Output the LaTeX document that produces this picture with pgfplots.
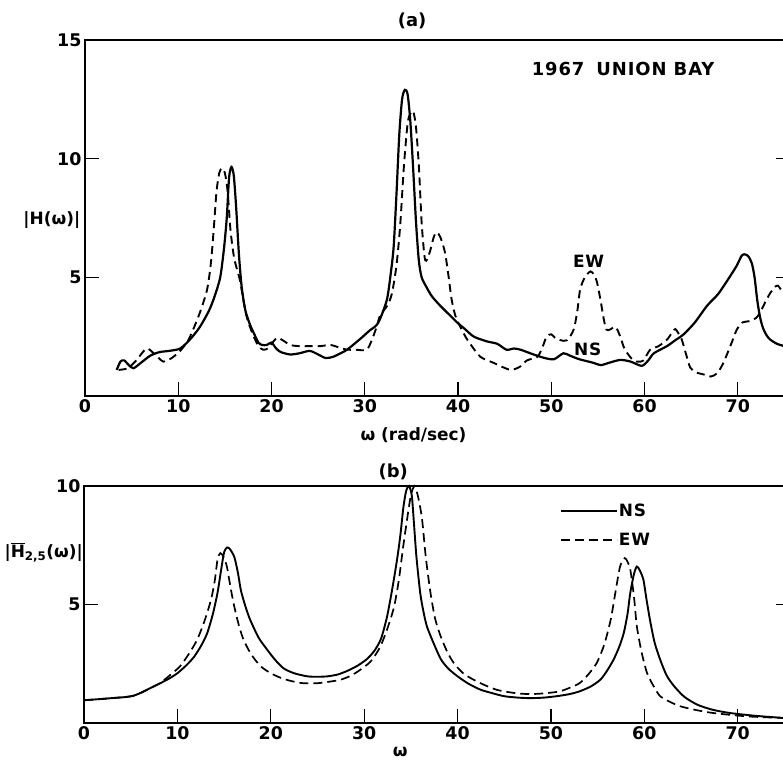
\documentclass[border=0pt]{standalone}
\usepackage{fontspec}
\setmainfont{DejaVu Sans}
\newfontfamily\lettering[LetterSpace=5]{DejaVu Sans}
\usepackage{pgfplots}
\pgfplotsset{compat=1.18}

\pgfplotstableread{
x y
3.4 1.1
3.8 1.45
4.2 1.5
4.7 1.3
5.2 1.17
6.0 1.4
7.0 1.7
8.0 1.85
9.0 1.9
10.2 2.0
11.3 2.4
12.3 2.9
13.3 3.6
13.9 4.2
14.5 5.0
14.9 6.2
15.2 7.5
15.45 9.2
15.7 9.65
15.95 9.3
16.2 8.0
16.5 6.0
16.8 4.6
17.2 3.6
17.7 3.0
18.1 2.65
18.6 2.25
19.0 2.15
19.5 2.15
20.0 2.25
20.5 2.0
21.0 1.85
22.0 1.75
23.0 1.8
24.1 1.9
25.0 1.75
25.8 1.6
26.6 1.65
27.4 1.8
28.1 1.95
29.5 2.4
30.5 2.75
31.3 3.0
31.8 3.4
32.4 4.1
32.8 5.2
33.1 6.3
33.4 8.5
33.7 11.0
34.0 12.5
34.3 12.9
34.6 12.7
34.9 11.5
35.2 9.5
35.5 7.3
35.8 5.7
36.1 5.0
36.6 4.6
37.2 4.2
38.1 3.8
39.0 3.45
39.9 3.1
40.8 2.8
41.7 2.5
43.1 2.3
44.2 2.2
45.2 1.95
46.0 2.0
46.7 1.95
48.1 1.75
49.3 1.6
50.3 1.55
51.3 1.8
52.0 1.7
53.0 1.55
54.5 1.4
55.3 1.3
56.2 1.4
57.4 1.52
58.5 1.45
59.7 1.27
60.4 1.5
61.0 1.8
62.4 2.1
63.3 2.35
64.2 2.6
65.4 3.1
66.7 3.8
67.9 4.3
69.2 5.06
69.9 5.5
70.4 5.9
70.7 5.97
71.1 5.9
71.5 5.6
71.8 5.0
72.1 4.0
72.4 3.3
72.7 2.87
73.1 2.55
73.5 2.37
74.2 2.2
75.0 2.1
}\topNS

\pgfplotstableread{
x y
3.6 1.1
4.6 1.17
5.5 1.5
6.6 2.0
7.5 1.75
8.4 1.45
9.3 1.6
10.2 1.9
11.0 2.3
11.6 2.8
12.4 3.6
13.1 4.5
13.5 5.6
13.8 7.0
14.1 8.6
14.4 9.4
14.7 9.6
15.0 9.4
15.3 8.6
15.6 7.0
16.0 5.8
16.6 4.9
17.0 4.0
17.3 3.4
17.7 2.9
18.1 2.5
18.6 2.1
19.1 1.95
19.6 2.0
20.0 2.2
20.6 2.45
21.2 2.35
22.0 2.15
23.0 2.1
24.1 2.1
25.2 2.1
26.3 2.15
27.2 2.05
28.1 1.95
29.0 1.95
30.2 1.95
30.8 2.4
31.3 2.95
31.65 3.4
32.4 3.8
32.9 4.3
33.4 5.5
33.8 7.2
34.2 9.7
34.6 11.5
34.9 11.9
35.2 12.0
35.5 11.3
35.8 9.7
36.1 7.3
36.4 5.9
36.6 5.7
37.0 6.1
37.4 6.7
37.7 6.9
38.1 6.7
38.6 6.05
39.0 5.0
39.3 4.1
39.7 3.4
40.2 2.95
40.8 2.5
41.3 2.2
42.4 1.65
43.8 1.4
44.6 1.25
45.6 1.1
46.2 1.15
46.7 1.25
47.4 1.5
48.5 1.65
49.0 2.0
49.5 2.5
50.0 2.6
50.4 2.45
51.0 2.35
51.7 2.35
52.4 2.8
52.8 3.6
53.1 4.5
53.6 5.0
54.2 5.25
54.6 5.1
54.9 4.8
55.3 4.0
55.6 3.3
55.9 2.8
56.3 2.8
56.9 2.91
57.4 2.5
57.9 1.95
58.8 1.5
59.4 1.45
59.9 1.5
60.6 1.95
61.5 2.1
62.4 2.37
63.0 2.7
63.3 2.82
63.7 2.6
64.0 2.37
64.5 1.7
64.9 1.2
65.5 1.0
66.4 0.9
67.1 0.82
67.8 0.96
68.4 1.35
68.9 1.81
69.4 2.3
69.9 2.8
70.5 3.1
71.2 3.15
72.0 3.3
72.5 3.6
73.0 4.0
73.5 4.35
74.0 4.6
74.3 4.65
74.6 4.5
75.0 4.3
}\topEW

\pgfplotstableread{
x y
0 0.96
3 1.05
5.3 1.15
7.5 1.55
9 1.85
10 2.1
11 2.45
11.8 2.8
12.6 3.3
13.2 3.8
13.8 4.6
14.3 5.5
14.7 6.5
15.0 7.2
15.3 7.4
15.6 7.35
16.1 7.0
16.5 6.3
16.8 5.6
17.3 4.9
17.8 4.35
18.7 3.6
19.6 3.1
20.5 2.65
21.4 2.3
22.5 2.1
23.9 1.97
25.0 1.95
26.1 1.97
27.2 2.05
28.2 2.2
29.3 2.42
30.3 2.7
31.1 3.05
31.8 3.55
32.4 4.4
32.8 5.2
33.2 6.1
33.6 7.1
33.9 8.0
34.2 9.1
34.5 9.8
34.8 10.0
35.1 9.6
35.3 8.6
35.6 7.0
36.0 5.5
36.3 4.8
36.7 4.1
37.4 3.4
38.2 2.7
39.0 2.3
40.0 1.97
41.2 1.65
42.5 1.4
43.8 1.25
45.0 1.13
46.5 1.07
47.8 1.05
49.2 1.07
50.6 1.13
52.0 1.22
53.1 1.34
54.3 1.55
55.3 1.83
56.0 2.2
56.7 2.67
57.3 3.2
57.8 3.8
58.2 4.6
58.5 5.5
58.9 6.3
59.2 6.6
59.5 6.45
59.9 6.05
60.2 5.3
60.6 4.36
61.1 3.4
61.7 2.67
62.4 2.0
63.2 1.55
64.3 1.1
65.7 0.77
67.3 0.56
69.2 0.42
72.0 0.3
75.0 0.21
}\botNS

\pgfplotstableread{
x y
0 0.96
3 1.05
5.3 1.15
7 1.45
8.2 1.7
9.3 2.05
10.3 2.4
11.2 2.9
12.1 3.5
12.9 4.3
13.6 5.2
14.0 6.0
14.3 6.9
14.6 7.17
14.95 7.0
15.3 6.6
15.7 5.7
16.1 4.9
16.6 4.1
17.1 3.5
17.9 2.9
18.9 2.4
20.0 2.1
21.1 1.9
22.1 1.78
23.2 1.69
24.3 1.67
25.3 1.69
26.4 1.75
27.5 1.83
28.6 2.0
29.6 2.25
30.7 2.6
31.7 3.2
32.5 4.0
33.2 4.9
33.7 6.0
34.2 7.5
34.6 8.6
35.0 9.6
35.4 10.0
35.8 9.5
36.2 8.6
36.6 7.0
37.1 5.5
37.6 4.4
38.2 3.65
38.9 3.0
39.6 2.53
40.6 2.1
41.7 1.83
42.9 1.6
44.2 1.4
45.5 1.3
46.7 1.24
47.8 1.22
48.9 1.24
50.0 1.28
51.0 1.34
52.1 1.5
53.1 1.69
54.0 2.05
54.9 2.53
55.7 3.3
56.4 4.36
56.9 5.5
57.4 6.6
57.9 6.96
58.2 6.8
58.5 6.47
58.9 5.3
59.2 4.08
59.7 3.0
60.3 2.1
61.0 1.55
61.7 1.13
62.8 0.88
63.9 0.7
65.5 0.55
67.4 0.42
71.0 0.28
75.0 0.21
}\botEW

\pgfplotsset{
  common/.style={
    scale only axis,
    anchor=south west,
    xmin=0, xmax=75.6, ymin=0,
    xtick={0,10,...,70},
    xtick pos=left,
    ytick pos=both,
    tick align=inside,
    major tick length=14bp,
    tick style={line width=1.2bp, black},
    axis line style={line width=2bp},
    /pgf/number format/assume math mode=true,
    tick label style={font=\fontsize{17.5}{17.5}\selectfont\bfseries},
    label style={font=\fontsize{17}{17}\selectfont\bfseries},
    title style={font=\fontsize{18}{18}\selectfont\bfseries},
    clip=false,
  },
  ns/.style={black, line width=2.2bp, smooth, tension=0.45},
  ew/.style={black, line width=1.9bp, dash pattern=on 8bp off 5bp, smooth, tension=0.45},
}

\begin{document}
\begin{tikzpicture}
\useasboundingbox (0,0) rectangle (783bp,760bp);

% ---------- (a)
\begin{axis}[common,
  at={(85bp,364bp)}, width=705bp, height=356bp,
  ymax=15, ytick={5,10,15},
  title={(a)}, title style={at={(axis description cs:0.464,1.037)}, anchor=center},
  xlabel={ω (rad/sec)}, xlabel style={at={(axis description cs:0.466,-0.110)}, anchor=center},
  ylabel={|H(ω)|}, ylabel style={rotate=-90, at={(axis description cs:-0.047,0.494)}, anchor=center},
]
\addplot[ns] table {\topNS};
\addplot[ew] table {\topEW};
\node[font=\fontsize{18}{18}\selectfont\bfseries\lettering] at (axis cs:57.7,13.8) {1967\hspace{12bp}UNION BAY};
\node[font=\fontsize{17}{17}\selectfont\bfseries\lettering] at (axis cs:54.0,5.68) {EW};
\node[font=\fontsize{17}{17}\selectfont\bfseries\lettering] at (axis cs:53.9,1.95) {NS};
\end{axis}

% ---------- (b)
\begin{axis}[common,
  at={(84bp,37bp)}, width=706bp, height=237bp,
  ymax=10, ytick={5,10},
  title={(b)}, title style={at={(axis description cs:0.438,1.035)}, anchor=center},
  xlabel={ω}, xlabel style={at={(axis description cs:0.448,-0.122)}, anchor=center},
  ylabel={|$\overline{\mbox{H}}$\textsubscript{2,5}(ω)|}, ylabel style={rotate=-90, at={(axis description cs:-0.057,0.72)}, anchor=center},
  legend style={draw=none, fill=none, at={(axis description cs:0.674,0.928)}, anchor=north west,
    font=\fontsize{17}{17}\selectfont\bfseries\lettering, row sep=13bp, inner sep=0pt,
    nodes={inner sep=1bp}},
  legend cell align=left,
  legend image code/.code={\draw[#1] (0bp,0bp) -- (56bp,0bp);},
]
\addplot[ns, line width=1.9bp] table {\botNS};
\addlegendentry{NS}
\addplot[ew, line width=1.7bp, dash pattern=on 9bp off 5bp] table {\botEW};
\addlegendentry{EW}
\end{axis}
\end{tikzpicture}
\end{document}
